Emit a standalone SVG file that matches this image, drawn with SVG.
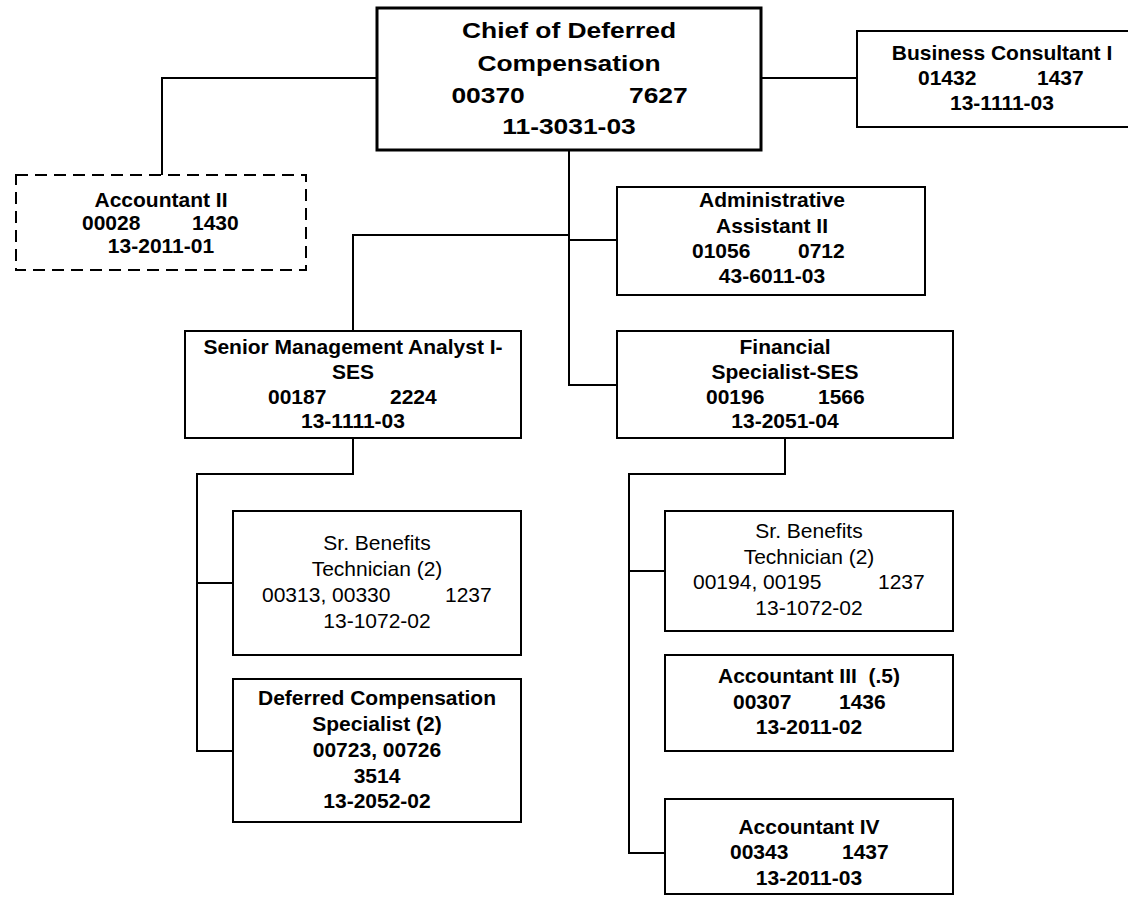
<svg xmlns="http://www.w3.org/2000/svg" width="1128" height="904" viewBox="0 0 1128 904">
  <style>
    .box { fill: #ffffff; stroke: #000000; stroke-width: 2; }
    .chief { stroke-width: 3; }
    .dashed { stroke-dasharray: 12 7; }
    .wire { fill: none; stroke: #000000; stroke-width: 2; }
    text { font-family: "Liberation Sans", Arial, sans-serif; font-size: 21px; fill: #000000; }
    .b { font-weight: bold; }
    .c { text-anchor: middle; }
    .big { font-size: 22px; font-weight: bold; }
  </style>

  <rect width="1128" height="904" fill="#ffffff"/>

  <!-- reporting lines -->
  <g id="connectors" class="wire">
    <path d="M377 78 H162 V175"/>
    <path d="M761 78 H857"/>
    <path d="M569 150 V385 H617"/>
    <path d="M569 235 H353 V331"/>
    <path d="M569 240 H617"/>
    <path d="M353 438 V474 H197 V751 H233"/>
    <path d="M197 583 H233"/>
    <path d="M785 438 V474 H629 V853 H665"/>
    <path d="M629 571 H665"/>
  </g>

  <g id="chief">
    <rect class="box chief" x="377" y="8" width="384" height="142"/>
    <g transform="translate(569 0) scale(1.2 1)">
      <text class="big c" x="0" y="38">Chief of Deferred</text>
      <text class="big c" x="0" y="71">Compensation</text>
      <text class="big" x="-98" y="103">00370</text>
      <text class="big" x="50" y="103">7627</text>
      <text class="big c" x="0" y="134">11-3031-03</text>
    </g>
  </g>

  <g id="business-consultant">
    <rect class="box" x="857" y="31" width="290" height="96"/>
    <text class="b c" x="1002" y="60">Business Consultant I</text>
    <text class="b" x="918" y="85">01432</text>
    <text class="b" x="1037" y="85">1437</text>
    <text class="b c" x="1002" y="110">13-1111-03</text>
  </g>

  <g id="accountant-2">
    <rect class="box dashed" x="16" y="175" width="290" height="95"/>
    <text class="b c" x="161" y="207">Accountant II</text>
    <text class="b" x="82" y="230">00028</text>
    <text class="b" x="192" y="230">1430</text>
    <text class="b c" x="161" y="253">13-2011-01</text>
  </g>

  <g id="admin-assistant">
    <rect class="box" x="617" y="187" width="308" height="108"/>
    <text class="b c" x="772" y="207">Administrative</text>
    <text class="b c" x="772" y="233">Assistant II</text>
    <text class="b" x="692" y="258">01056</text>
    <text class="b" x="798" y="258">0712</text>
    <text class="b c" x="772" y="283">43-6011-03</text>
  </g>

  <g id="senior-mgmt-analyst">
    <rect class="box" x="185" y="331" width="336" height="107"/>
    <text class="b c" x="353" y="354">Senior Management Analyst I-</text>
    <text class="b c" x="353" y="379">SES</text>
    <text class="b" x="268" y="404">00187</text>
    <text class="b" x="390" y="404">2224</text>
    <text class="b c" x="353" y="428">13-1111-03</text>
  </g>

  <g id="financial-specialist">
    <rect class="box" x="617" y="331" width="336" height="107"/>
    <text class="b c" x="785" y="354">Financial</text>
    <text class="b c" x="785" y="379">Specialist-SES</text>
    <text class="b" x="706" y="404">00196</text>
    <text class="b" x="818" y="404">1566</text>
    <text class="b c" x="785" y="428">13-2051-04</text>
  </g>

  <g id="benefits-tech-left">
    <rect class="box" x="233" y="511" width="288" height="144"/>
    <text class="c" x="377" y="550">Sr. Benefits</text>
    <text class="c" x="377" y="576">Technician (2)</text>
    <text x="262" y="602">00313, 00330</text>
    <text x="445" y="602">1237</text>
    <text class="c" x="377" y="628">13-1072-02</text>
  </g>

  <g id="deferred-comp-specialist">
    <rect class="box" x="233" y="679" width="288" height="143"/>
    <text class="b c" x="377" y="705">Deferred Compensation</text>
    <text class="b c" x="377" y="731">Specialist (2)</text>
    <text class="b c" x="377" y="757">00723, 00726</text>
    <text class="b c" x="377" y="783">3514</text>
    <text class="b c" x="377" y="808">13-2052-02</text>
  </g>

  <g id="benefits-tech-right">
    <rect class="box" x="665" y="511" width="288" height="120"/>
    <text class="c" x="809" y="538">Sr. Benefits</text>
    <text class="c" x="809" y="564">Technician (2)</text>
    <text x="693" y="589">00194, 00195</text>
    <text x="878" y="589">1237</text>
    <text class="c" x="809" y="615">13-1072-02</text>
  </g>

  <g id="accountant-3">
    <rect class="box" x="665" y="655" width="288" height="96"/>
    <text class="b c" x="809" y="683" xml:space="preserve">Accountant III  (.5)</text>
    <text class="b" x="733" y="709">00307</text>
    <text class="b" x="839" y="709">1436</text>
    <text class="b c" x="809" y="734">13-2011-02</text>
  </g>

  <g id="accountant-4">
    <rect class="box" x="665" y="799" width="288" height="95"/>
    <text class="b c" x="809" y="834">Accountant IV</text>
    <text class="b" x="730" y="859">00343</text>
    <text class="b" x="842" y="859">1437</text>
    <text class="b c" x="809" y="885">13-2011-03</text>
  </g>
</svg>
